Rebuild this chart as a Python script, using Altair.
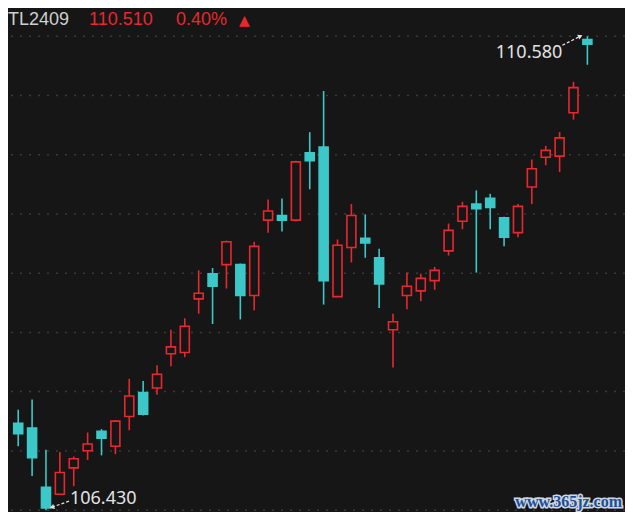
import altair as alt
import pandas as pd

symbol = "TL2409"
last_price = "110.510"
change_pct = "0.40%"
up_mark = "▲"
watermark = "www.365jz.com"

opens = [107.19, 107.15, 106.63, 106.57, 106.80, 106.95, 107.12, 106.99, 107.25, 107.46,
         107.50, 107.80, 107.81, 108.28, 108.50, 108.58, 108.58, 108.31, 108.97, 109.01,
         108.97, 109.56, 109.61, 108.30, 108.73, 108.81, 108.64, 108.01, 108.31, 108.35,
         108.44, 108.70, 108.96, 109.11, 109.16, 108.99, 108.86, 109.26, 109.52, 109.53,
         109.91, 110.55]
highs = [107.31, 107.40, 106.96, 106.94, 106.90, 107.11, 107.14, 107.22, 107.58, 107.56,
         107.70, 108.01, 108.11, 108.53, 108.55, 108.79, 108.59, 108.78, 109.15, 109.16,
         109.49, 109.74, 110.10, 108.80, 109.11, 109.02, 108.72, 108.15, 108.51, 108.50,
         108.56, 108.94, 109.13, 109.23, 109.20, 109.00, 109.11, 109.50, 109.62, 109.74,
         110.18, 110.58]
lows = [106.99, 106.73, 106.43, 106.57, 106.64, 106.87, 106.91, 106.92, 107.13, 107.26,
        107.44, 107.69, 107.77, 108.15, 108.06, 108.37, 108.10, 108.18, 108.86, 108.87,
        108.96, 109.24, 108.23, 108.30, 108.60, 108.64, 108.20, 107.68, 108.19, 108.26,
        108.36, 108.66, 108.89, 108.51, 108.89, 108.74, 108.82, 109.11, 109.45, 109.39,
        109.85, 110.33]
closes = [107.10, 106.89, 106.45, 106.76, 106.88, 107.01, 107.06, 107.21, 107.43, 107.27,
          107.62, 107.86, 108.04, 108.33, 108.39, 108.78, 108.31, 108.74, 109.05, 108.97,
          109.48, 109.49, 108.44, 108.75, 109.01, 108.77, 108.41, 108.08, 108.39, 108.46,
          108.53, 108.88, 109.09, 109.07, 109.08, 108.82, 109.09, 109.42, 109.58, 109.69,
          110.13, 110.51]
grid_levels = [106.43, 106.949, 107.468, 107.986, 108.505, 109.024, 109.543, 110.061, 110.58]

BG = "#161616"
RED = "#e8282e"
TEAL = "#3cc8c8"
LABEL = "#e2e2e2"

df = pd.DataFrame({"i": list(range(len(opens))), "open": opens, "high": highs,
                   "low": lows, "close": closes})
df["dir"] = ["up" if c >= o else "down" for o, c in zip(opens, closes)]

i_low = lows.index(min(lows))
i_high = highs.index(max(highs))
low_df = pd.DataFrame({"i": [i_low], "p": [lows[i_low]], "t": [f"{lows[i_low]:.3f}"]})
high_df = pd.DataFrame({"i": [i_high], "p": [highs[i_high]], "t": [f"{highs[i_high]:.3f}"]})

xs = alt.Scale(domain=[-0.3756, 43.35], nice=False, zero=False)
ys = alt.Scale(domain=[106.414, 110.827], nice=False, zero=False)
X = alt.X("i:Q", scale=xs, axis=None)
col_scale = alt.Scale(domain=["up", "down"], range=[RED, TEAL])
fill_scale = alt.Scale(domain=["up", "down"], range=[BG, TEAL])

grid = alt.Chart(pd.DataFrame({"level": grid_levels})).mark_rule(
    color="#3a3a3a", strokeWidth=1.5, strokeDash=[2, 7]
).encode(y=alt.Y("level:Q", scale=ys, axis=None))

wicks = alt.Chart(df).mark_rule(strokeWidth=1.6).encode(
    x=X, y=alt.Y("low:Q", scale=ys, axis=None), y2="high:Q",
    color=alt.Color("dir:N", scale=col_scale, legend=None))

bodies = alt.Chart(df).mark_bar(width=9, strokeWidth=1.6).encode(
    x=X, y=alt.Y("open:Q", scale=ys, axis=None), y2="close:Q",
    fill=alt.Fill("dir:N", scale=fill_scale, legend=None),
    stroke=alt.Stroke("dir:N", scale=col_scale, legend=None))

one = pd.DataFrame({"a": [0]})
hdr_font = "Liberation Sans"
lbl_font = "Noto Sans"
h1 = alt.Chart(one).mark_text(text=symbol, align="left", baseline="alphabetic",
                              font=hdr_font, fontSize=18, color="#cfcfcf").encode(
    x=alt.value(0), y=alt.value(17))
h2 = alt.Chart(one).mark_text(text=last_price, align="left", baseline="alphabetic",
                              font=hdr_font, fontSize=18, color=RED).encode(
    x=alt.value(81), y=alt.value(17))
h3 = alt.Chart(one).mark_text(text=change_pct, align="left", baseline="alphabetic",
                              font=hdr_font, fontSize=18, color=RED).encode(
    x=alt.value(168), y=alt.value(17))
h4 = alt.Chart(one).mark_text(text=up_mark, align="left", baseline="alphabetic",
                              font="DejaVu Sans", fontSize=14, color=RED).encode(
    x=alt.value(231), y=alt.value(17))

low_lbl = alt.Chart(low_df).mark_text(align="left", baseline="alphabetic", dx=24, dy=-6,
                                      font=lbl_font, fontSize=18, color=LABEL).encode(
    x=X, y=alt.Y("p:Q", scale=ys, axis=None), text="t:N")
high_lbl = alt.Chart(high_df).mark_text(align="right", baseline="alphabetic", dx=-25, dy=22,
                                        font=lbl_font, fontSize=18, color=LABEL).encode(
    x=X, y=alt.Y("p:Q", scale=ys, axis=None), text="t:N")

low_arrow = alt.Chart(low_df).mark_rule(
    color=LABEL, strokeWidth=1.3, strokeDash=[3, 2],
    xOffset=23, x2Offset=6, yOffset=-9, y2Offset=-3
).encode(x=X, x2="i:Q", y=alt.Y("p:Q", scale=ys, axis=None), y2="p:Q")
low_head = alt.Chart(low_df).mark_point(
    shape="triangle-up", angle=250, filled=True, size=28, color=LABEL, opacity=1,
    xOffset=6, yOffset=-3
).encode(x=X, y=alt.Y("p:Q", scale=ys, axis=None))

high_arrow = alt.Chart(high_df).mark_rule(
    color=LABEL, strokeWidth=1.3, strokeDash=[3, 2],
    xOffset=-25, x2Offset=-7, yOffset=9, y2Offset=0
).encode(x=X, x2="i:Q", y=alt.Y("p:Q", scale=ys, axis=None), y2="p:Q")
high_head = alt.Chart(high_df).mark_point(
    shape="triangle-up", angle=65, filled=True, size=28, color=LABEL, opacity=1,
    xOffset=-7, yOffset=0
).encode(x=X, y=alt.Y("p:Q", scale=ys, axis=None))

wm_back = alt.Chart(one).mark_text(text=watermark, align="right", baseline="alphabetic",
                                   font="Liberation Serif", fontWeight="bold", fontSize=16,
                                   fill="#1d4f99", stroke="#cfd6e0", strokeWidth=3).encode(
    x=alt.value(614), y=alt.value(499))
wm_front = alt.Chart(one).mark_text(text=watermark, align="right", baseline="alphabetic",
                                    font="Liberation Serif", fontWeight="bold", fontSize=16,
                                    fill="#1d4f99").encode(
    x=alt.value(614), y=alt.value(499))

chart = alt.layer(
    grid, wicks, bodies, h1, h2, h3, h4,
    low_arrow, low_head, high_arrow, high_head, low_lbl, high_lbl,
    wm_back, wm_front
).properties(
    width=617, height=504,
    autosize=alt.AutoSizeParams(type="none"),
    padding=0, background=BG
).configure_view(stroke=None)

chart.save("out.html", embed_options={"renderer": "svg", "actions": False})
